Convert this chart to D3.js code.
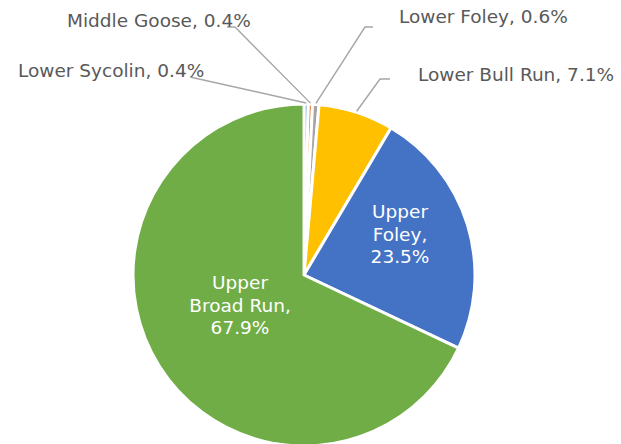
<!DOCTYPE html>
<html>
<head>
<meta charset="utf-8">
<script src="https://cdn.jsdelivr.net/npm/d3@7"></script>
<style>
  html, body { margin: 0; padding: 0; background: #fff; }
  svg { display: block; font-family: "DejaVu Sans", Verdana, sans-serif; }
</style>
</head>
<body>
<div id="chart"></div>
<script>
// --------------- Data ---------------
const categories = ["Lower Sycolin", "Middle Goose", "Lower Foley", "Lower Bull Run", "Upper Foley", "Upper Broad Run"];
const shares = [0.4, 0.4, 0.6, 7.1, 23.5, 67.9];
const sliceColors = ["#5B9BD5", "#ED7D31", "#A5A5A5", "#FFC000", "#4472C4", "#70AD47"];

// --------------- Constants ---------------
const WIDTH = 621;
const HEIGHT = 444;
const CENTER = { x: 304, y: 275 };
const RADIUS = 171;

// outside labels: text anchor (left, baseline) + leader elbow
const outsideLabels = {
  "Lower Sycolin": { x: 18, y: 77, elbow: [[190, 77]] },
  "Middle Goose": { x: 67, y: 27, elbow: [[227, 27], [235, 27]] },
  "Lower Foley": { x: 399, y: 23, elbow: [[373, 27], [365, 27]] },
  "Lower Bull Run": { x: 418, y: 81, elbow: [[390, 79], [380, 79]] },
};
// inside labels: centre x + baseline of first line
const insideLabels = {
  "Upper Foley": { x: 400, y: 218, lines: ["Upper", "Foley,"] },
  "Upper Broad Run": { x: 240, y: 289, lines: ["Upper", "Broad Run,"] },
};

const data = categories.map((c, i) => ({ name: c, value: shares[i], color: sliceColors[i] }));

// --------------- Prep SVG ---------------
const svg = d3
  .select("#chart")
  .append("svg")
  .attr("width", WIDTH)
  .attr("height", HEIGHT);

const pie = d3.pie().value((d) => d.value).sort(null);
const arc = d3.arc().innerRadius(0).outerRadius(RADIUS);
const arcs = pie(data);

const g = svg.append("g").attr("transform", `translate(${CENTER.x},${CENTER.y})`);

g.selectAll("path")
  .data(arcs)
  .join("path")
  .attr("d", arc)
  .attr("fill", (d) => d.data.color)
  .attr("stroke", "#fff")
  .attr("stroke-width", 3)
  .attr("stroke-linejoin", "round");

// leader lines + outside labels
arcs.forEach((d) => {
  const lab = outsideLabels[d.data.name];
  if (!lab) return;
  const mid = (d.startAngle + d.endAngle) / 2;
  const tip = [CENTER.x + Math.sin(mid) * (RADIUS + 1), CENTER.y - Math.cos(mid) * (RADIUS + 1)];
  svg
    .append("path")
    .attr("d", d3.line()([...lab.elbow, tip]))
    .attr("fill", "none")
    .attr("stroke", "#A6A6A6")
    .attr("stroke-width", 1.4);
  svg
    .append("text")
    .attr("x", lab.x)
    .attr("y", lab.y)
    .attr("fill", "#595959")
    .attr("font-size", 18.5)
    .text(`${d.data.name}, ${d.data.value.toFixed(1)}%`);
});

// inside labels
arcs.forEach((d) => {
  const lab = insideLabels[d.data.name];
  if (!lab) return;
  const t = svg
    .append("text")
    .attr("x", lab.x)
    .attr("y", lab.y)
    .attr("fill", "#fff")
    .attr("font-size", 18.5)
    .attr("text-anchor", "middle");
  [...lab.lines, `${d.data.value.toFixed(1)}%`].forEach((line, i) => {
    t.append("tspan").attr("x", lab.x).attr("dy", i === 0 ? 0 : 22.5).text(line);
  });
});
</script>
</body>
</html>
